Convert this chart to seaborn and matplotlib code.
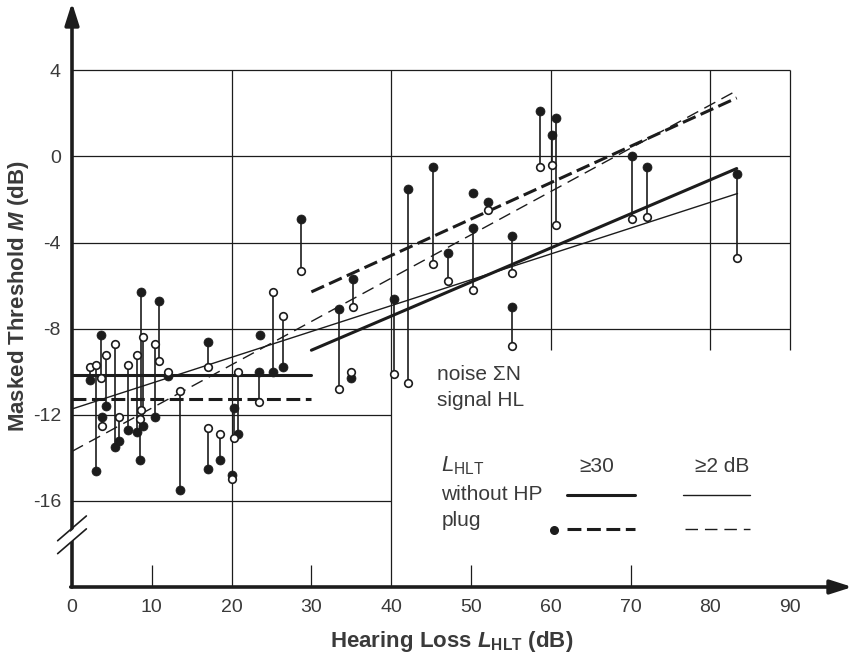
import numpy as np
import pandas as pd
import matplotlib.pyplot as plt
import seaborn as sns

# ── data ──────────────────────────────────────────────────────────────────────
# hearing loss L_HLT (dB) of each subject, masked threshold without HP and with plug
loss_db = [2.2, 3.0, 3.6, 3.7, 4.2, 5.4, 5.9, 7.0, 8.2,
           8.6, 8.9, 8.5, 10.9, 10.4, 12.0, 13.5, 17.0, 17.0,
           18.5, 20.3, 20.8, 20.1, 23.4, 23.6, 25.2, 26.5, 28.7,
           33.4, 35.2, 35.0, 40.3, 42.1, 45.3, 47.1, 50.3, 50.3,
           52.1, 55.2, 55.2, 58.6, 60.2, 60.7, 70.2, 72.0, 83.4]
m_open = [-9.8, -9.7, -10.3, -12.5, -9.2, -8.7, -12.1, -9.7, -9.2,
          -11.8, -8.4, -12.2, -9.5, -8.7, -10.0, -10.9, -9.8, -12.6,
          -12.9, -13.1, -10.0, -15.0, -11.4, np.nan, -6.3, -7.4, -5.3,
          -10.8, -7.0, -10.0, -10.1, -10.5, -5.0, -5.8, np.nan, -6.2,
          -2.5, -5.4, -8.8, -0.5, -0.4, -3.2, -2.9, -2.8, -4.7]
m_plug = [-10.4, -14.6, -8.3, -12.1, -11.6, -13.5, -13.2, -12.7, -12.8,
          -6.3, -12.5, -14.1, -6.7, -12.1, -10.2, -15.5, -8.6, -14.5,
          -14.1, -11.7, -12.9, -14.8, -10.0, -8.3, -10.0, -9.8, -2.9,
          -7.1, -5.7, -10.3, -6.6, -1.5, -0.5, -4.5, -1.7, -3.3,
          -2.1, -3.7, -7.0, 2.1, 1.0, 1.8, 0.0, -0.5, -0.8]

# regression lines: L_HLT >= 30 (flat part below 30) and L_HLT >= 2 dB
thick_flat_x = [0, 30]
thick_solid_flat = [-10.15, -10.15]
thick_dash_flat = [-11.28, -11.28]
thick_x = [30, 83.3]
thick_solid_y = [-9.0, -0.56]
thick_dash_y = [-6.29, 2.72]
thin_x = [0, 83.4]
thin_solid_y = [-11.73, -1.72]
thin_dash_y = [-13.7, 3.08]

x_ticks = [0, 10, 20, 30, 40, 50, 60, 70, 80, 90]
y_ticks = [4, 0, -4, -8, -12, -16]

df = pd.DataFrame({"loss": loss_db, "open": m_open, "plug": m_plug})

# ── style ─────────────────────────────────────────────────────────────────────
sns.set_theme(style="white")
plt.rcParams["font.family"] = ["Liberation Sans", "DejaVu Sans"]
plt.rcParams.update({
    "mathtext.fontset": "custom",
    "mathtext.rm": "Liberation Sans",
    "mathtext.it": "Liberation Sans:italic",
    "mathtext.bf": "Liberation Sans:bold",
    "mathtext.bfit": "Liberation Sans:italic:bold",
    "lines.scale_dashes": False,
})
TXT = "#3a3a3a"
INK = "#1c1c1c"

fig = plt.figure(figsize=(8.56, 6.63), dpi=100)
ax = fig.add_axes([72 / 856, 76 / 663, 782 / 856, 585.5 / 663])
ax.set_xlim(0, 98)
ax.set_ylim(-20, 7.2)
for s in ax.spines.values():
    s.set_visible(False)

# ── grid (partial, as in the original) ────────────────────────────────────────
ax.hlines([4, 0, -4, -8], 0, 90, color=INK, lw=0.9, zorder=1)
ax.hlines([-12, -16], 0, 40, color=INK, lw=0.9, zorder=1)
ax.vlines([20, 40], -20, 4, color=INK, lw=0.9, zorder=1)
ax.vlines([60, 80, 90], -9.0, 4, color=INK, lw=0.9, zorder=1)
ax.vlines([10, 30, 50, 70], -20, -19, color=INK, lw=0.9, zorder=1)

# ── fit lines ─────────────────────────────────────────────────────────────────
ax.plot(thick_flat_x, thick_solid_flat, color=INK, lw=2.2, zorder=2)
ax.plot(thick_x, thick_solid_y, color=INK, lw=2.2, zorder=2)
ax.plot(thin_x, thin_solid_y, color=INK, lw=1.0, zorder=2)
l1, = ax.plot(thick_flat_x, thick_dash_flat, color=INK, lw=2.2, zorder=2)
l2, = ax.plot(thick_x, thick_dash_y, color=INK, lw=2.2, zorder=2)
l3, = ax.plot(thin_x, thin_dash_y, color=INK, lw=1.0, zorder=2)
for ln in (l1, l2):
    ln.set_dashes((10, 4))
l3.set_dashes((9, 5))

# ── data pairs: stem + open (without HP) + filled (plug) ─────────────────────
ax.vlines(df["loss"], df["open"], df["plug"], color=INK, lw=1.2, zorder=3)
sns.scatterplot(data=df, x="loss", y="plug", ax=ax, s=42, color=INK,
                edgecolor=INK, linewidth=0.5, zorder=4)
sns.scatterplot(data=df, x="loss", y="open", ax=ax, s=30, color="white",
                edgecolor=INK, linewidth=1.2, zorder=5)

# ── axes with arrows and break ────────────────────────────────────────────────
ax.annotate("", xy=(0, 7.15), xytext=(0, -20.0), annotation_clip=False,
            arrowprops=dict(arrowstyle="-|>,head_length=1.1,head_width=0.35",
                            lw=2.6, color=INK, shrinkA=0, shrinkB=0))
ax.annotate("", xy=(97.8, -20), xytext=(-0.16, -20), annotation_clip=False,
            arrowprops=dict(arrowstyle="-|>,head_length=1.1,head_width=0.35",
                            lw=2.6, color=INK, shrinkA=0, shrinkB=0))
bx = np.array([-1.8, 1.8])
ax.fill_between(bx, [-18.35, -17.2], [-17.95, -16.8], color="white", zorder=6,
                clip_on=False)
ax.plot(bx, [-18.45, -17.3], color=INK, lw=1.2, zorder=7, clip_on=False)
ax.plot(bx, [-17.85, -16.7], color=INK, lw=1.2, zorder=7, clip_on=False)

# ── ticks & labels ────────────────────────────────────────────────────────────
ax.set_xticks(x_ticks)
ax.set_xticklabels([str(t) for t in x_ticks])
ax.set_yticks(y_ticks)
ax.set_yticklabels([str(t) for t in y_ticks])
ax.tick_params(length=0, labelsize=14, labelcolor=TXT)
ax.tick_params(axis="x", pad=9)
ax.tick_params(axis="y", pad=8)

ax.set_xlabel(r"Hearing Loss $\mathbfit{L}_{\mathbf{HLT}}$ (dB)",
              fontsize=16, fontweight="bold", color=TXT)
ax.xaxis.set_label_coords(0.486, -0.072)
ax.set_ylabel(r"Masked Threshold $\mathbfit{M}$ (dB)",
              fontsize=16, fontweight="bold", color=TXT)
ax.yaxis.set_label_coords(-0.052, 0.496)

# ── in-plot legend ────────────────────────────────────────────────────────────
fs = 15
ax.text(45.7, -10.15, "noise \u03a3N", fontsize=fs, color=TXT, va="center")
ax.text(45.7, -11.35, "signal HL", fontsize=fs, color=TXT, va="center")
ax.text(46.3, -14.35, r"$\mathit{L}_{\mathrm{HLT}}$", fontsize=fs + 1, color=TXT,
        va="center")
ax.text(65.8, -14.4, "\u226530", fontsize=fs, color=TXT, va="center", ha="center")
ax.text(81.5, -14.4, "\u22652 dB", fontsize=fs, color=TXT, va="center", ha="center")
ax.text(46.3, -15.7, "without HP", fontsize=fs, color=TXT, va="center")
ax.text(46.3, -16.9, "plug", fontsize=fs, color=TXT, va="center")
ax.plot([62.0, 70.5], [-15.71, -15.71], color=INK, lw=2.2)
ax.plot([76.6, 85.0], [-15.71, -15.71], color=INK, lw=1.0)
d1, = ax.plot([62.0, 70.5], [-17.29, -17.29], color=INK, lw=2.2)
d1.set_dashes((10, 4))
d2, = ax.plot([76.8, 85.0], [-17.29, -17.29], color=INK, lw=1.0)
d2.set_dashes((9, 5))
ax.scatter([60.4], [-17.33], s=30, color=INK, zorder=4)

fig.savefig("out.png", dpi=100)
